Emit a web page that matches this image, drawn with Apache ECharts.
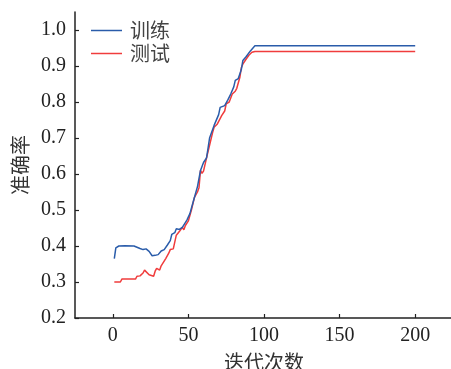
<!DOCTYPE html>
<html><head><meta charset="utf-8">
<script src="https://cdn.jsdelivr.net/npm/echarts@6/dist/echarts.min.js"></script>
<style>html,body{margin:0;padding:0;background:#fff}#c{width:451px;height:369px}</style>
</head><body><div id="c"></div>
<script>
var seriesNames = ['训练', '测试'];
var xTicks = [0, 50, 100, 150, 200];
var yTicks = [0.2, 0.3, 0.4, 0.5, 0.6, 0.7, 0.8, 0.9, 1.0];
var trainIter = [1, 2, 4, 8, 14, 18, 20, 21, 22, 24, 26, 28, 30, 32, 34, 35, 36, 38, 39, 41, 42, 44, 46, 47, 49, 51, 53, 55, 56, 57, 58, 60, 62, 63, 64, 65, 67, 68, 70, 71, 72, 74, 76, 78, 80, 81, 83, 84, 85, 86, 88, 89, 91, 94, 200];
var trainAcc = [0.365, 0.395, 0.40, 0.401, 0.40, 0.393, 0.39, 0.385, 0.392, 0.385, 0.373, 0.374, 0.376, 0.386, 0.39, 0.388, 0.402, 0.415, 0.432, 0.437, 0.448, 0.446, 0.452, 0.45, 0.472, 0.49, 0.52, 0.55, 0.565, 0.568, 0.61, 0.632, 0.645, 0.672, 0.70, 0.705, 0.735, 0.74, 0.765, 0.785, 0.79, 0.79, 0.805, 0.822, 0.842, 0.86, 0.865, 0.868, 0.89, 0.915, 0.925, 0.928, 0.942, 0.956, 0.956];
var testIter = [1, 5, 6, 10, 15, 16, 18, 20, 21, 22, 24, 25, 27, 28, 29, 30, 31, 32, 33, 35, 37, 38, 40, 41, 42, 44, 46, 47, 48, 50, 52, 54, 56, 57, 58, 59, 60, 62, 64, 66, 67, 69, 70, 72, 74, 75, 77, 79, 81, 82, 84, 85, 86, 88, 90, 92, 94, 200];
var testAcc = [0.30, 0.30, 0.308, 0.308, 0.308, 0.316, 0.317, 0.325, 0.333, 0.33, 0.32, 0.316, 0.316, 0.33, 0.338, 0.337, 0.333, 0.345, 0.35, 0.365, 0.38, 0.39, 0.392, 0.395, 0.43, 0.44, 0.452, 0.445, 0.457, 0.47, 0.5, 0.535, 0.55, 0.562, 0.61, 0.602, 0.608, 0.645, 0.68, 0.715, 0.73, 0.738, 0.742, 0.762, 0.775, 0.795, 0.80, 0.822, 0.83, 0.838, 0.868, 0.895, 0.905, 0.918, 0.93, 0.938, 0.94, 0.94];

function pairs(xs, ys) { return xs.map(function (x, i) { return [x, ys[i]]; }); }

var axisColor = '#222';
var serif = '"Liberation Serif", "Times New Roman", serif';
var cjk = '"Noto Sans CJK SC", sans-serif';
var chart = echarts.init(document.getElementById('c'), null, {renderer: 'canvas'});
chart.setOption({
  animation: false,
  backgroundColor: '#fff',
  grid: {left: 75, right: -2, top: 12, bottom: 51, containLabel: false, outerBoundsMode: 'none'},
  legend: {
    orient: 'vertical', left: 86, top: 15, itemGap: 2, itemWidth: 31, itemHeight: 1.5,
    icon: 'rect',
    textStyle: {fontFamily: cjk, fontSize: 20, color: '#444', padding: [0, 0, 0, 3], lineHeight: 21},
    data: seriesNames
  },
  xAxis: {
    type: 'value', min: -25, max: 225,
    name: '迭代次数', nameLocation: 'middle', nameGap: 34,
    nameTextStyle: {fontFamily: cjk, fontSize: 20, color: '#333'},
    axisLine: {onZero: false, lineStyle: {color: axisColor, width: 1.5}},
    axisTick: {show: true, inside: true, length: 4, customValues: xTicks, lineStyle: {color: axisColor, width: 1.2}},
    axisLabel: {customValues: xTicks, margin: 8, fontFamily: serif, fontSize: 20, color: '#222'},
    splitLine: {show: false}
  },
  yAxis: {
    type: 'value', min: 0.2, max: 1.05,
    name: '准确率', nameLocation: 'middle', nameGap: 44, nameRotate: 90,
    nameTextStyle: {fontFamily: cjk, fontSize: 20, color: '#333'},
    axisLine: {show: true, onZero: false, lineStyle: {color: axisColor, width: 1.5}},
    axisTick: {show: true, inside: true, length: 4, customValues: yTicks, lineStyle: {color: axisColor, width: 1.2}},
    axisLabel: {customValues: yTicks, margin: 9, fontFamily: serif, fontSize: 20, color: '#222',
      formatter: function (v) { return v.toFixed(1); }},
    splitLine: {show: false}
  },
  series: [
    {name: seriesNames[0], type: 'line', symbol: 'none', data: pairs(trainIter, trainAcc),
     lineStyle: {color: '#2a5caa', width: 1.5}, itemStyle: {color: '#2a5caa'}, z: 3},
    {name: seriesNames[1], type: 'line', symbol: 'none', data: pairs(testIter, testAcc),
     lineStyle: {color: '#f03c3c', width: 1.5}, itemStyle: {color: '#f03c3c'}, z: 2}
  ]
});
</script></body></html>
